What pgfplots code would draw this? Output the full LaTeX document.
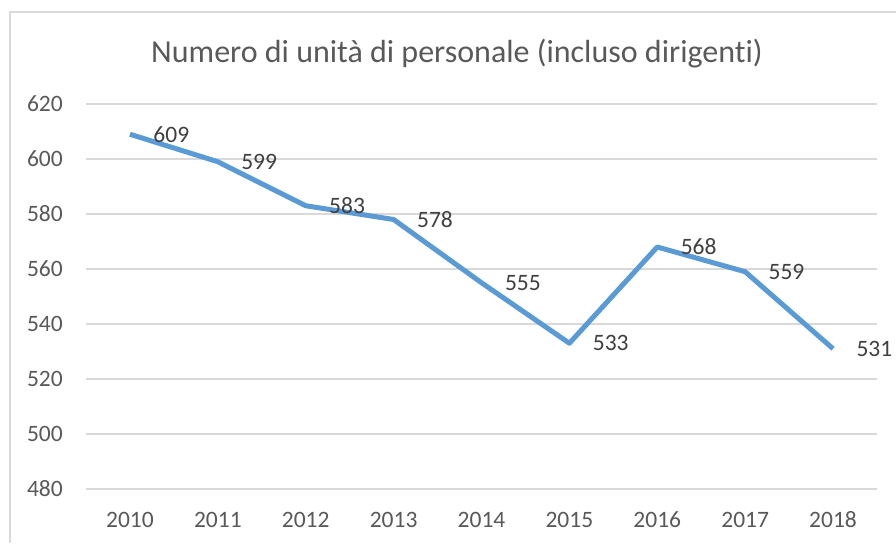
\documentclass[border=0pt]{standalone}
\usepackage{pgfplots}
\pgfplotsset{compat=1.18}
\usepackage{fontspec}
\setmainfont{Carlito}[Ligatures=NoCommon]
\definecolor{linec}{HTML}{5B9BD5}
\definecolor{gridc}{HTML}{D9D9D9}
\definecolor{tickc}{HTML}{595959}
\definecolor{labc}{HTML}{404040}
\begin{document}
\begin{tikzpicture}[x=1pt,y=1pt]
\path[use as bounding box] (0,0) rectangle (896,543);
\draw[gridc, line width=1.5pt] (10,0) -- (10,531) -- (896,531);
\node[color=tickc, font=\fontsize{32}{38}\selectfont, anchor=base] at (457,480) {Numero di unità di personale (incluso dirigenti)};
\begin{axis}[
  at={(86pt,54pt)}, anchor=south west,
  scale only axis, width=791pt, height=385pt,
  xmin=-0.5, xmax=8.5, ymin=480, ymax=620,
  axis line style={draw=none},
  major tick length=0pt,
  xtick={0,...,8},
  xticklabels={2010,2011,2012,2013,2014,2015,2016,2017,2018},
  ytick={480,500,...,620},
  ymajorgrids, major grid style={gridc, line width=1.5pt},
  every tick label/.append style={font=\fontsize{23.5}{28}\selectfont, text=tickc, inner sep=0pt},
  xticklabel style={anchor=base, yshift=-38pt},
  yticklabel style={anchor=east, xshift=-23pt},
  /pgf/number format/assume math mode=true,
  clip=false,
]
\addplot[linec, line width=5pt, line join=round,
  nodes near coords,
  every node near coord/.append style={anchor=west, inner sep=0pt, xshift=21pt, text=labc, font=\fontsize{23.5}{28}\selectfont},
] coordinates {(0,609) (1,599) (2,583) (3,578) (4,555) (5,533) (6,568) (7,559) (8,531)};
\end{axis}
\end{tikzpicture}
\end{document}
